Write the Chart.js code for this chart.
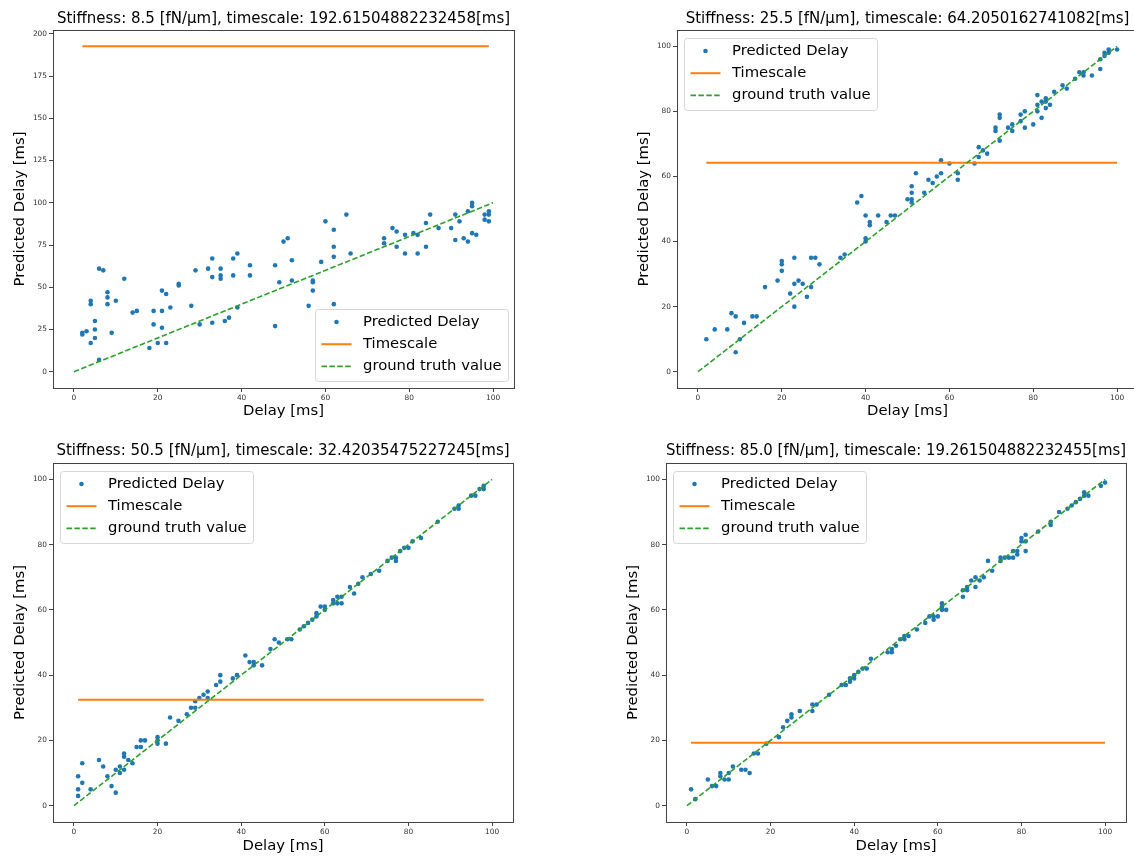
<!DOCTYPE html>
<html><head><meta charset="utf-8">
<script src="https://cdn.jsdelivr.net/npm/chart.js@4.4.1/dist/chart.umd.min.js"></script>
<style>
html,body{margin:0;padding:0;background:#fff;overflow:hidden;width:1134px;height:856px;position:relative}
canvas{position:absolute;display:block}
</style></head><body>
<canvas id="c1" width="567" height="428" style="left:0px;top:0px;width:567px;height:428px"></canvas>
<canvas id="c2" width="567" height="428" style="left:624px;top:0px;width:567px;height:428px"></canvas>
<canvas id="c3" width="567" height="428" style="left:0px;top:428px;width:567px;height:428px"></canvas>
<canvas id="c4" width="567" height="428" style="left:613px;top:428px;width:567px;height:428px"></canvas>
<script>
// ---------- data ----------
const stiffness = [8.5, 25.5, 50.5, 85.0];
const timescales = [192.61504882232458, 64.2050162741082, 32.42035475227245, 19.261504882232455];
const xTicks = [0, 20, 40, 60, 80, 100];
const yTicksWide = [0, 25, 50, 75, 100, 125, 150, 175, 200];
const yTicks = [0, 20, 40, 60, 80, 100];
const truthX = [0, 100];
const seriesLabels = ['Predicted Delay', 'Timescale', 'ground truth value'];
const xLabel = 'Delay [ms]';
const yLabel = 'Predicted Delay [ms]';

const p1x = [2,2,3,4,4,4,5,5,5,6,6,7,8,8,8,9,10,12,14,15,18,19,19,20,21,21,21,22,22,23,25,25,28,29,30,32,33,33,33,35,35,35,36,37,38,38,39,39,42,42,48,48,49,50,51,52,52,56,57,57,57,59,60,62,62,62,62,65,66,74,74,76,77,77,79,79,81,82,82,84,84,85,87,90,91,91,92,93,94,94,95,95,95,96,98,98,99,99,99];
const p1y = [23,22,24,42,40,17,30,25,20,61,7,60,47,44,40,23,42,55,35,36,14,36,28,17,48,36,26,46,17,38,52,51,39,60,28,61,67,56,29,61,57,55,30,32,67,57,70,38,63,57,63,27,53,77,79,66,54,39,54,53,48,65,89,84,74,68,40,93,70,79,76,85,83,74,81,70,82,81,70,88,74,93,85,85,93,78,89,79,77,95,82,100,98,81,93,90,95,93,89];

const p2x = [2,4,7,8,9,9,10,11,13,14,16,19,20,20,20,22,23,23,23,24,25,26,27,27,28,29,34,35,38,39,40,40,40,41,41,43,45,46,47,50,51,51,51,51,52,54,55,56,57,58,58,60,62,62,66,67,67,68,69,71,71,72,72,72,74,75,75,77,77,78,78,80,81,81,81,82,82,83,83,83,84,85,87,88,90,91,92,92,94,96,96,97,97,98,98,100];
const p2y = [10,13,13,18,17,6,10,15,17,17,26,28,34,33,31,24,35,27,20,28,27,23,26,35,35,33,35,36,52,54,48,41,40,46,45,48,46,48,48,53,57,55,53,52,61,55,59,58,60,65,61,64,61,59,64,69,66,68,67,75,74,79,78,71,75,76,74,79,77,80,75,76,85,82,80,83,78,84,83,81,82,86,88,87,90,92,92,91,91,96,93,97,98,98,99,99];

const p3x = [1,1,1,2,2,4,6,7,8,9,10,10,11,11,12,12,12,13,14,15,16,16,17,20,20,20,22,23,25,27,28,29,29,30,31,32,32,34,35,35,38,39,41,42,43,43,45,47,48,49,51,52,54,55,56,57,58,58,59,60,60,62,62,63,63,64,64,66,67,68,69,71,73,75,76,77,77,78,79,80,81,83,87,91,92,92,95,96,97,98,98];
const p3y = [9,5,3,13,7,5,14,12,9,6,11,4,12,10,16,15,11,14,13,18,20,18,20,21,20,19,19,27,26,28,30,30,32,33,34,35,33,37,38,40,39,40,46,44,44,43,43,48,51,50,51,51,54,55,56,57,58,59,61,61,60,63,62,64,62,64,62,67,65,68,70,71,72,75,76,76,75,78,79,79,81,82,87,91,92,91,95,95,97,98,97];

const p4x = [1,2,5,6,7,8,8,9,10,10,11,13,14,15,16,17,19,22,23,24,25,25,27,30,30,31,34,37,38,39,39,40,40,41,42,43,44,48,49,49,50,51,52,52,53,55,57,58,59,59,60,61,61,61,62,66,66,67,67,68,69,69,70,71,72,73,75,75,76,77,78,78,79,79,80,80,81,81,81,84,87,87,89,91,92,93,94,95,95,96,99,100];
const p4y = [5,2,8,6,6,10,9,8,8,10,12,11,11,10,16,16,19,21,24,26,28,27,29,31,29,31,34,37,37,39,38,39,40,41,42,42,45,47,47,48,49,51,51,52,52,54,56,58,58,57,58,62,61,60,60,66,64,67,66,69,70,67,69,70,75,72,75,76,76,76,76,78,78,77,82,81,83,81,78,84,87,86,90,91,92,93,94,96,95,95,98,99];

// ---------- style / layout ----------
const FAMILY = '"DejaVu Sans", sans-serif';
const BIG = 14.8;
const TITLE = 15;
const SMALL = 7.4;
const AXIS_COLOR = '#444';
const BLUE = '#1f77b4', ORANGE = '#ff7f0e', GREEN = '#2ca02c';

Chart.defaults.font.family = FAMILY;
Chart.defaults.color = '#000';
Chart.defaults.animation = false;

const panels = [
  {id:'c1', xs:p1x, ys:p1y, k:0, yt:yTicksWide, legend:'lower right',
   area:{left:53,right:514,top:30,bottom:388}, titleTop:10.4, xTitleBottom:8.0},
  {id:'c2', xs:p2x, ys:p2y, k:1, yt:yTicks, legend:'upper left',
   area:{left:53,right:514,top:30,bottom:388}, titleTop:10.4, xTitleBottom:8.0},
  {id:'c3', xs:p3x, ys:p3y, k:2, yt:yTicks, legend:'upper left',
   area:{left:53,right:513,top:35,bottom:394}, titleTop:14.4, xTitleBottom:1.0},
  {id:'c4', xs:p4x, ys:p4y, k:3, yt:yTicks, legend:'upper left',
   area:{left:53,right:513,top:35,bottom:394}, titleTop:14.4, xTitleBottom:1.0}
];

const framePlugin = {
  id: 'frame',
  afterDatasetsDraw(chart) {
    const a = chart.chartArea, c = chart.ctx;
    c.save();
    c.strokeStyle = AXIS_COLOR; c.lineWidth = 1;
    const l = Math.round(a.left) + 0.5, t = Math.round(a.top) + 0.5;
    c.strokeRect(l, t, Math.round(a.right) - Math.round(a.left), Math.round(a.bottom) - Math.round(a.top));
    c.restore();
  }
};

const innerLegend = {
  id: 'innerLegend',
  afterDraw(chart, args, opts) {
    const a = chart.chartArea, ctx = chart.ctx;
    const ds = chart.data.datasets;
    ctx.save();
    ctx.font = BIG + 'px ' + FAMILY;
    const tw = Math.max(...ds.map(d => ctx.measureText(d.label).width));
    const w = tw + 47.5 + 7, h = 72, rowGap = 22.2;
    let x, y;
    if (opts.position === 'lower right') { x = a.right - 6 - w; y = a.bottom - 7 - h; }
    else { x = a.left + 7; y = a.top + 7.5; }
    x = Math.round(x) + 0.5; y = Math.round(y) + 0.5;
    ctx.beginPath();
    ctx.roundRect(x, y, Math.round(w), h, 3);
    ctx.fillStyle = 'rgba(255,255,255,0.8)';
    ctx.fill();
    ctx.strokeStyle = '#d6d6d6'; ctx.lineWidth = 1;
    ctx.stroke();
    ds.forEach((d, i) => {
      const ry = y + 12.5 + i * rowGap;
      if (d.showLine) {
        ctx.beginPath();
        ctx.strokeStyle = d.borderColor; ctx.lineWidth = d.borderWidth;
        ctx.setLineDash(d.borderDash || []);
        ctx.moveTo(x + 6, ry); ctx.lineTo(x + 36, ry); ctx.stroke();
        ctx.setLineDash([]);
      } else {
        ctx.beginPath();
        ctx.fillStyle = d.backgroundColor;
        ctx.arc(x + 21, ry, d.pointRadius, 0, Math.PI * 2);
        ctx.fill();
      }
      ctx.fillStyle = '#000';
      ctx.textBaseline = 'middle'; ctx.textAlign = 'left';
      ctx.fillText(d.label, x + 47.5, ry);
    });
    ctx.restore();
  }
};

function makeChart(p) {
  const canvas = document.getElementById(p.id);
  const W = canvas.width, H = canvas.height;
  const t = timescales[p.k];
  const pts = p.xs.map((x, i) => ({x: x, y: p.ys[i]}));
  const xmin = Math.min(...p.xs), xmax = Math.max(...p.xs);
  const tsLine = [{x: xmin, y: t}, {x: xmax, y: t}];
  const truth = truthX.map(v => ({x: v, y: v}));
  const allY = p.ys.concat([t], truthX);
  const allX = p.xs.concat(truthX);
  const ylo = Math.min(...allY), yhi = Math.max(...allY);
  const xlo = Math.min(...allX), xhi = Math.max(...allX);
  const ypad = (yhi - ylo) * 0.05, xpad = (xhi - xlo) * 0.05;
  const title = 'Stiffness: ' + stiffness[p.k].toFixed(1) + ' [fN/\u00b5m], timescale: ' + String(t) + '[ms]';
  const lh = TITLE * 1.2;
  const tickStyle = {font: {size: SMALL, family: FAMILY}, color: '#333', padding: 2, maxRotation: 0, autoSkip: false};
  const gridStyle = {display: true, drawOnChartArea: false, drawTicks: true, tickLength: 4, color: AXIS_COLOR, lineWidth: 1};

  return new Chart(canvas, {
    type: 'scatter',
    data: {
      datasets: [
        {label: seriesLabels[0], data: pts, showLine: false, pointRadius: 2.3, pointHoverRadius: 2.3,
         backgroundColor: BLUE, borderColor: BLUE, pointBorderWidth: 0, order: 2},
        {label: seriesLabels[1], data: tsLine, showLine: true, pointRadius: 0, borderColor: ORANGE,
         backgroundColor: ORANGE, borderWidth: 2, fill: false, order: 1},
        {label: seriesLabels[2], data: truth, showLine: true, pointRadius: 0, borderColor: GREEN,
         backgroundColor: GREEN, borderWidth: 1.6, borderDash: [5.5, 2.4], fill: false, order: 0}
      ]
    },
    options: {
      responsive: false,
      maintainAspectRatio: false,
      animation: false,
      events: [],
      layout: {padding: {left: 0, top: 0, bottom: 0, right: W - p.area.right}},
      plugins: {
        legend: {display: false},
        tooltip: {enabled: false},
        title: {display: true, fullSize: false, text: title, color: '#000',
          font: {size: TITLE, family: FAMILY, weight: 'normal', lineHeight: 1.2},
          padding: {top: p.titleTop, bottom: p.area.top - lh - p.titleTop}},
        innerLegend: {position: p.legend}
      },
      scales: {
        x: {
          type: 'linear', min: xlo - xpad, max: xhi + xpad,
          afterBuildTicks: s => { s.ticks = xTicks.map(v => ({value: v})); },
          afterFit: s => { s.height = H - p.area.bottom; },
          grid: gridStyle, border: {display: false},
          ticks: tickStyle,
          title: {display: true, text: xLabel, color: '#000',
            font: {size: BIG, family: FAMILY, lineHeight: 1.2}, padding: {top: 0, bottom: p.xTitleBottom}}
        },
        y: {
          type: 'linear', min: ylo - ypad, max: yhi + ypad,
          afterBuildTicks: s => { s.ticks = p.yt.map(v => ({value: v})); },
          afterFit: s => { s.width = p.area.left; },
          grid: gridStyle, border: {display: false},
          ticks: tickStyle,
          title: {display: true, text: yLabel, color: '#000',
            font: {size: BIG, family: FAMILY, lineHeight: 1.2}, padding: {top: 11.3, bottom: 0}}
        }
      }
    },
    plugins: [framePlugin, innerLegend]
  });
}

panels.forEach(makeChart);
</script>
</body></html>
